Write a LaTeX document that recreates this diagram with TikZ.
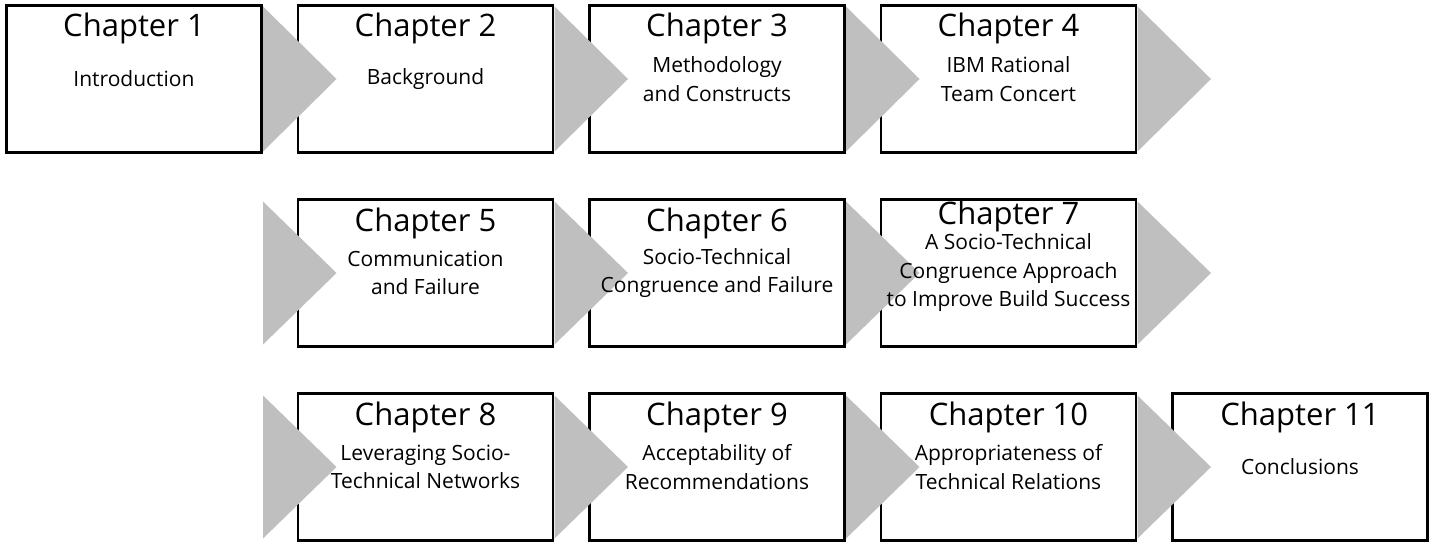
\documentclass[tikz,border=0pt]{standalone}
\usepackage{fontspec}
\setmainfont{Open Sans}
\usetikzlibrary{positioning}
\definecolor{arrowgray}{RGB}{191,191,191}

\begin{document}
\begin{tikzpicture}[x=1pt, y=-1pt,
    node distance=47pt and 36.5pt,
    box/.style={draw, line width=2.75pt, outer sep=0pt, minimum width=255pt, minimum height=147pt, fill=white},
    title/.style={anchor=base, inner sep=0pt, font=\fontsize{31}{36}\selectfont},
    body/.style={align=center, inner sep=0pt, font=\fontsize{21}{28.5}\selectfont},
    tri/.style={fill=arrowgray}]
  \useasboundingbox (0,0) rectangle (1434,548);
  % chapter boxes
  \node[box] at (134,79) (c1) {};
  \node[box, right=of c1] (c2) {};
  \node[box, right=of c2] (c3) {};
  \node[box, right=of c3] (c4) {};
  \node[box, below=of c2] (c5) {};
  \node[box, right=of c5] (c6) {};
  \node[box, right=of c6] (c7) {};
  \node[box, below=of c5] (c8) {};
  \node[box, right=of c8] (c9) {};
  \node[box, right=of c9] (c10) {};
  \node[box, right=of c10] (c11) {};
  % grey arrow heads
  \fill[tri] ([xshift=1.5pt,yshift=-1pt]c1.north east) -- ([xshift=75pt]c1.east) -- ([xshift=1.5pt,yshift=1pt]c1.south east) -- cycle;
  \fill[tri] ([xshift=1.5pt,yshift=-1pt]c2.north east) -- ([xshift=75pt]c2.east) -- ([xshift=1.5pt,yshift=1pt]c2.south east) -- cycle;
  \fill[tri] ([xshift=1.5pt,yshift=-1pt]c3.north east) -- ([xshift=75pt]c3.east) -- ([xshift=1.5pt,yshift=1pt]c3.south east) -- cycle;
  \fill[tri] ([xshift=1.5pt,yshift=-1pt]c4.north east) -- ([xshift=75pt]c4.east) -- ([xshift=1.5pt,yshift=1pt]c4.south east) -- cycle;
  \fill[tri] ([xshift=-35pt,yshift=-2pt]c5.north west) -- ([xshift=38.5pt]c5.west) -- ([xshift=-35pt,yshift=2pt]c5.south west) -- cycle;
  \fill[tri] ([xshift=1.5pt,yshift=-2pt]c5.north east) -- ([xshift=75pt]c5.east) -- ([xshift=1.5pt,yshift=2pt]c5.south east) -- cycle;
  \fill[tri] ([xshift=1.5pt,yshift=-2pt]c6.north east) -- ([xshift=75pt]c6.east) -- ([xshift=1.5pt,yshift=2pt]c6.south east) -- cycle;
  \fill[tri] ([xshift=1.5pt,yshift=-2pt]c7.north east) -- ([xshift=75pt]c7.east) -- ([xshift=1.5pt,yshift=2pt]c7.south east) -- cycle;
  \fill[tri] ([xshift=-35pt,yshift=-2pt]c8.north west) -- ([xshift=38.5pt]c8.west) -- ([xshift=-35pt,yshift=2pt]c8.south west) -- cycle;
  \fill[tri] ([xshift=1.5pt,yshift=-2pt]c8.north east) -- ([xshift=75pt]c8.east) -- ([xshift=1.5pt,yshift=2pt]c8.south east) -- cycle;
  \fill[tri] ([xshift=1.5pt,yshift=-2pt]c9.north east) -- ([xshift=75pt]c9.east) -- ([xshift=1.5pt,yshift=2pt]c9.south east) -- cycle;
  \fill[tri] ([xshift=1.5pt,yshift=-2pt]c10.north east) -- ([xshift=75pt]c10.east) -- ([xshift=1.5pt,yshift=2pt]c10.south east) -- cycle;
  % titles
  \node[title] (h1) at ([yshift=-31.5pt]c1.north) {Chapter 1};
  \node[title] (h2) at ([yshift=-31.5pt]c2.north) {Chapter 2};
  \node[title] (h3) at ([yshift=-31.5pt]c3.north) {Chapter 3};
  \node[title] (h4) at ([yshift=-31.5pt]c4.north) {Chapter 4};
  \node[title] (h5) at ([yshift=-31.5pt]c5.north) {Chapter 5};
  \node[title] (h6) at ([yshift=-31.5pt]c6.north) {Chapter 6};
  \node[title] (h7) at ([yshift=-25pt]c7.north) {Chapter 7};
  \node[title] (h8) at ([yshift=-31.5pt]c8.north) {Chapter 8};
  \node[title] (h9) at ([yshift=-31.5pt]c9.north) {Chapter 9};
  \node[title] (h10) at ([yshift=-31.5pt]c10.north) {Chapter 10};
  \node[title] (h11) at ([yshift=-31.5pt]c11.north) {Chapter 11};
  % descriptions
  \node[body] (d1) at (c1) {Introduction};
  \node[body] (d2) at (c2) {Background};
  \node[body] (d3) at (c3) {Methodology\\and Constructs};
  \node[body] (d4) at (c4) {IBM Rational\\Team Concert};
  \node[body] (d5) at (c5) {Communication\\and Failure};
  \node[body] (d6) at (c6) {Socio-Technical\\Congruence and Failure};
  \node[body] (d7) at (c7) {A Socio-Technical\\Congruence Approach\\to Improve Build Success};
  \node[body] (d8) at (c8) {Leveraging Socio-\\Technical Networks};
  \node[body] (d9) at (c9) {Acceptability of\\Recommendations};
  \node[body] (d10) at (c10) {Appropriateness of\\Technical Relations};
  \node[body] (d11) at (c11) {Conclusions};
\end{tikzpicture}
\end{document}
